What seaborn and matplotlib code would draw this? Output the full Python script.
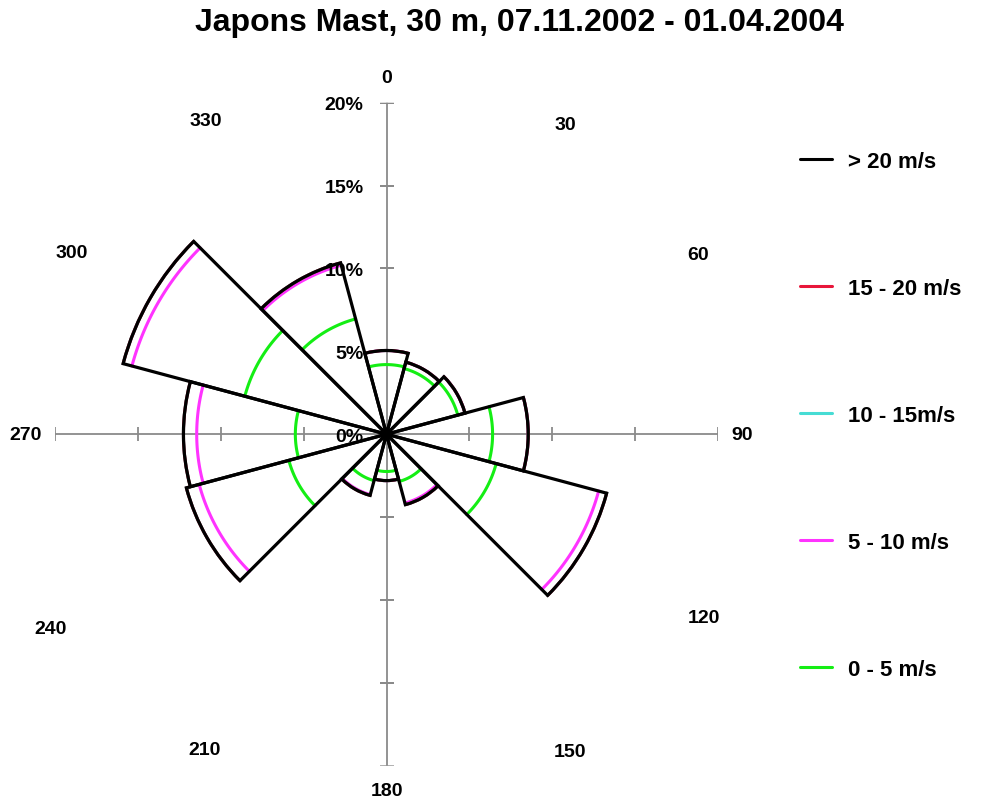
import numpy as np
import pandas as pd
import matplotlib
matplotlib.use("Agg")
import matplotlib.pyplot as plt
from matplotlib.lines import Line2D
import seaborn as sns

# ---- data -------------------------------------------------------------
title = "Japons Mast, 30 m, 07.11.2002 - 01.04.2004"
directions = [0, 30, 60, 90, 120, 150, 180, 210, 240, 270, 300, 330]
# frequency (%) of each wind-speed class per 30-degree sector
freq_0_5 = [4.2, 4.1, 4.45, 6.4, 6.85, 2.95, 2.25, 2.9, 6.1, 5.5, 8.85, 7.2]
freq_5_10 = [0.85, 0.4, 0.45, 2.15, 6.4, 1.35, 0.55, 0.87, 5.6, 5.95, 7.05, 3.35]
freq_10_15 = [0.0, 0.0, 0.0, 0.0, 0.5, 0.1, 0.0, 0.05, 0.8, 0.8, 0.55, 0.15]
freq_15_20 = [0, 0, 0, 0, 0, 0, 0, 0, 0, 0, 0, 0]
freq_gt_20 = [0, 0, 0, 0, 0, 0, 0, 0, 0, 0, 0, 0]
class_labels = ["0 - 5 m/s", "5 - 10 m/s", "10 - 15m/s", "15 - 20 m/s", "> 20 m/s"]
class_colors = ["#14ee14", "#ff33ff", "#46dcd4", "#e8163a", "#000000"]
pct_ticks = [0, 5, 10, 15, 20]

# radial placement of the direction labels (in % units)
dir_label_r = [21.55, 21.6, 21.7, 21.45, 22.1, 22.1, 21.5, 22.0, 23.4, 21.75, 21.95, 21.85]

# ---- style ------------------------------------------------------------
sns.set_theme(style="white")
plt.rcParams["font.family"] = ["Liberation Sans", "DejaVu Sans"]
plt.rcParams["font.weight"] = "bold"
plt.rcParams["text.color"] = "black"

fig = plt.figure(figsize=(9.9, 8.03), dpi=100)
ax = fig.add_axes([55 / 990, 36.3 / 803, 663 / 990, 663 / 803], projection="polar")
ax.set_theta_zero_location("N")
ax.set_theta_direction(-1)

sector_width = np.deg2rad(30)
theta_c = np.deg2rad(directions)
cum = np.cumsum(np.vstack([freq_0_5, freq_5_10, freq_10_15, freq_15_20, freq_gt_20]), axis=0)

# cumulative speed-class arcs inside each sector
rows = []
for k in range(4):
    for i, tc in enumerate(theta_c):
        th = np.linspace(tc - sector_width / 2, tc + sector_width / 2, 60)
        for t in th:
            rows.append({"theta": t, "r": cum[k, i], "cls": class_labels[k], "sector": i})
arcs = pd.DataFrame(rows)
sns.lineplot(data=arcs, x="theta", y="r", hue="cls", units="sector", estimator=None,
             sort=False, palette=dict(zip(class_labels, class_colors)),
             hue_order=class_labels[:4], linewidth=2.2, legend=False, ax=ax, zorder=2)

# sector outlines = total frequency
ax.bar(theta_c, cum[-1], width=sector_width, bottom=0, fill=False, edgecolor="black",
       linewidth=2.3, joinstyle="miter", zorder=3)

# cross-shaped percentage axes
axis_col = "#8a8a8a"
for ang in [0, 90, 180, 270]:
    t = np.deg2rad(ang)
    ax.plot([t, t], [0, 20], color=axis_col, lw=1.3, zorder=1)
    ax.plot([t] * 4, pct_ticks[1:], ls="", marker="_" if ang in (0, 180) else "|",
            ms=10, mew=1.3, color=axis_col, zorder=1)

ax.set_ylim(0, 20)
ax.grid(False)
ax.set_xticks([])
ax.set_yticks([])
ax.set_xlabel("")
ax.set_ylabel("")
ax.spines["polar"].set_visible(False)
ax.set_facecolor("none")

for p in pct_ticks:
    ax.annotate(f"{p}%", xy=(0, p), xytext=(-23, -2), textcoords="offset pixels",
                ha="right", va="center", fontsize=14, fontweight="bold",
                color="black", annotation_clip=False)

for d, rl in zip(directions, dir_label_r):
    ax.text(np.deg2rad(d), rl, str(d), ha="center", va="center",
            fontsize=14, fontweight="bold", color="black", clip_on=False)

fig.text(519 / 990, 1 - 23 / 803, title, ha="center", va="center",
         fontsize=23, fontweight="bold", color="black")

handles = [Line2D([0], [0], color=c, lw=2.2) for c in class_colors[::-1]]
leg = fig.legend(handles, class_labels[::-1], loc="upper left",
                 bbox_to_anchor=(800 / 990, 1 - 152 / 803), frameon=False,
                 borderpad=0, borderaxespad=0, handlelength=1.45,
                 handletextpad=0.72, labelspacing=4.77,
                 prop={"weight": "bold", "size": 16})
for txt in leg.get_texts():
    txt.set_color("black")

fig.savefig("out.png", dpi=100, facecolor="white")
